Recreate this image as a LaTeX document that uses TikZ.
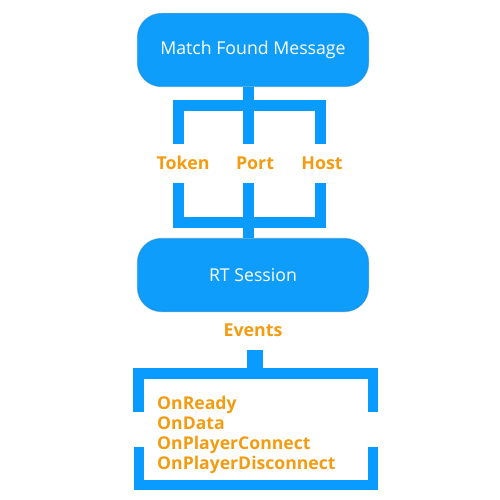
\documentclass[tikz,border=0pt]{standalone}
\usepackage{fontspec}
\setmainfont{Open Sans}
\definecolor{myblue}{HTML}{0A9BFF}
\definecolor{boxblue}{HTML}{0F9DFB}
\definecolor{boxedge}{HTML}{1788D8}
\definecolor{myorange}{HTML}{F39C12}
\begin{document}
\begin{tikzpicture}[x=1pt,y=-1pt,
  bluebox/.style={fill=boxblue,draw=boxedge,draw opacity=0.6,line width=1.2pt,rounded corners=24pt,minimum width=231pt,minimum height=73pt,text=white,font=\fontsize{17.7}{20}\selectfont,inner sep=0pt},
  conn/.style={draw=myblue,line width=11pt,line join=miter},
  lbl/.style={text=myorange,font=\fontsize{17.8}{20}\selectfont\bfseries,inner sep=0pt}]
\useasboundingbox (0,0) rectangle (500,500);
\node[bluebox] (mfm) at (253,50) {Match Found Message};
\node[bluebox] (rts) at (253,275) {RT Session};
\node[lbl] (token) at (183,163) {Token};
\node[lbl] (port) at (255,163) {Port};
\node[lbl] (host) at (322,163) {Host};
\node[lbl] (events) at (253,330) {Events};
\node[lbl,anchor=west,align=left,font=\fontsize{17.6}{19.8}\selectfont\bfseries] (list) at (157,435) {OnReady\\OnData\\OnPlayerConnect\\OnPlayerDisconnect};
% upper bracket
\coordinate (ul) at (178.5,144);
\coordinate (um) at (248.5,144);
\coordinate (ur) at (320.5,144);
\coordinate (ll) at (178.5,183);
\coordinate (lm) at (248.5,183);
\coordinate (lr) at (320.5,183);
\draw[conn] (ul) -- (178.5,105.5) -- (320.5,105.5) -- (ur);
\draw[conn] (mfm.south -| um) -- (um);
\draw[conn] (ll) -- (178.5,222) -- (320.5,222) -- (lr);
\draw[conn] (lm) -- (rts.north -| lm);
% bottom bracket
\coordinate (stemtop) at (254.5,350);
\coordinate (bl1) at (138.5,412);
\coordinate (br1) at (373,412);
\coordinate (bl2) at (138.5,447);
\coordinate (br2) at (373,447);
\draw[conn,line width=16pt] (stemtop) -- (254.5,368);
\draw[conn,line width=10.5pt] (bl1) -- (138.5,373.5) -- (373,373.5) -- (br1);
\draw[conn,line width=10pt] (bl2) -- (138.5,485) -- (373,485) -- (br2);
\end{tikzpicture}
\end{document}
